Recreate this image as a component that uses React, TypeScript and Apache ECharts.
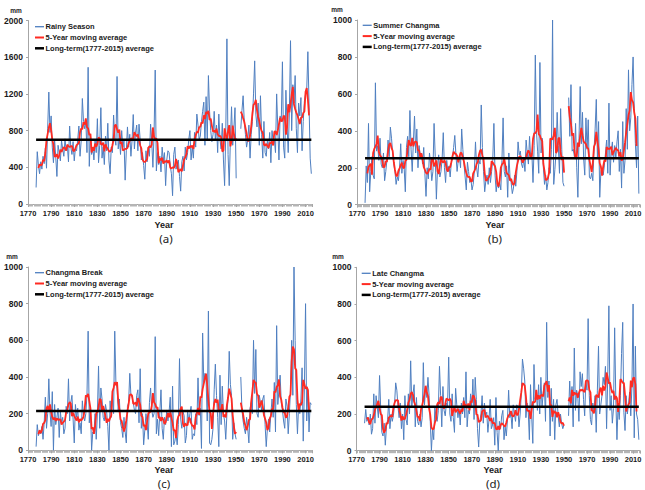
import React, { useEffect, useRef } from "react";
import * as echarts from "echarts";

// Annual precipitation (mm), 1777-2015; 1951-1953 are missing years.
const START_YEAR = 1777;

const RAINY_SEASON = [
  180, 570, 420,
  330, 460, 380, 520, 440, 610, 390, 820, 1220, 780,
  960, 620, 450, 700, 510, 300, 640, 560, 470, 690,
  600, 520, 710, 580, 640, 460, 850, 620, 540, 680,
  470, 610, 580, 700, 850, 520, 690, 1150, 900, 820,
  900, 560, 1490, 410, 760, 540, 620, 480, 700, 560,
  930, 450, 640, 1050, 500, 620, 430, 740, 580, 880,
  470, 330, 620, 560, 970, 720, 640, 1390, 600, 720,
  540, 800, 620, 700, 260, 580, 840, 620, 760, 520,
  700, 975, 600, 780, 860, 580, 870, 700, 480, 560,
  420, 270, 580, 460, 620, 520, 870, 680, 400, 760,
  1460, 360, 560, 430, 520, 350, 620, 470, 560, 200,
  480, 580, 560, 420, 330, 90, 540, 620, 380, 440,
  480, 300, 140, 460, 520, 360, 620, 480, 560, 700,
  800, 480, 620, 500, 780, 620, 980, 860, 700, 740,
  900, 1010, 1110, 640, 1170, 700, 1400, 1010, 800, 680,
  760, 1010, 700, 860, 560, 980, 700, 600, 880, 480,
  200, 760, 1800, 540, 200, 700, 1060, 640, 820, 1050,
  280, null, null, null, 820, 1020, 1180, 900, 760, 620,
  700, 860, 500, 760, 900, 1200, 1560, 980, 840, 1100,
  640, 1180, 760, 500, 900, 560, 520, 700, 600, 780,
  450, 800, 680, 700, 560, 1200, 820, 480, 960, 900,
  1550, 620, 500, 1240, 860, 560, 1000, 1780, 800, 1300,
  1100, 1400, 820, 560, 1100, 960, 1160, 580, 900, 1120,
  1200, 1240, 1660, 1100, 500, 330,
];

const SUMMER_CHANGMA = [
  10, 210, 120,
  440, 70, 180, 260, 160, 140, 660, 290, 320, 240,
  360, 220, 200, 280, 130, 180, 240, 350, 260, 420,
  360, 280, 220, 180, 110, 150, 130, 200, 330, 170,
  240, 200, 70, 310, 370, 260, 510, 300, 180, 340,
  480, 280, 410, 200, 320, 260, 280, 220, 310, 170,
  45, 200, 140, 280, 220, 130, 180, 440, 260, 30,
  200, 270, 150, 180, 250, 390, 200, 120, 240, 180,
  210, 150, 230, 250, 310, 375, 270, 180, 240, 260,
  200, 410, 300, 220, 150, 80, 230, 180, 120, 140,
  80, 110, 180, 340, 200, 150, 240, 220, 540, 310,
  180, 70, 130, 160, 110, 200, 120, 180, 240, 440,
  160, 70, 130, 90, 120, 80, 240, 470, 180, 150,
  210, 40, 280, 150, 120, 60, 90, 160, 100, 180,
  340, 270, 290, 220, 200, 250, 180, 350, 280, 220,
  370, 250, 280, 120, 320, 810, 400, 290, 170, 770,
  280, 360, 200, 110, 160, 80, 120, 200, 170, 300,
  1000, 110, 190, 280, 500, 320, 170, 520, 300, 120,
  100, null, null, null, 580, 370, 650, 290, 300, 260,
  440, 200, 40, 360, 640, 330, 500, 250, 160, 470,
  300, 460, 150, 140, 170, 130, 290, 410, 570, 250,
  450, 40, 180, 200, 160, 210, 280, 350, 170, 550,
  160, 290, 340, 230, 320, 250, 340, 400, 180, 300,
  90, 450, 170, 240, 520, 300, 730, 400, 470, 650,
  800, 520, 330, 200, 480, 60,
];

const CHANGMA_BREAK = [
  20, 140, 80,
  110, 90, 130, 60, 150, 290, 120, 200, 390, 210,
  130, 320, 0, 250, 140, 180, 230, 70, 210, 150,
  180, 90, 120, 240, 200, 390, 160, 260, 300, 170,
  40, 250, 180, 230, 110, 150, 90, 270, 190, 160,
  200, 300, 650, 150, 240, 0, 100, 90, 200, 60,
  200, 460, 120, 340, 280, 180, 160, 250, 210, 130,
  0, 270, 180, 300, 200, 650, 370, 340, 220, 280,
  150, 120, 70, 180, 100, 40, 240, 260, 420, 300,
  290, 260, 220, 200, 300, 330, 150, 445, 120, 200,
  30, 110, 200, 150, 60, 260, 340, 220, 180, 200,
  620, 90, 170, 80, 210, 330, 120, 60, 180, 140,
  220, 160, 210, 290, 20, 350, 30, 50, 90, 30,
  140, 500, 170, 120, 210, 190, 40, 80, 220, 150,
  200, 240, 60, 90, 80, 200, 140, 395, 190, 230,
  10, 640, 370, 420, 380, 160, 760, 40, 30, 60,
  120, 330, 470, 300, 180, 20, 410, 140, 350, 200,
  160, 60, 200, 280, 540, 360, 300, 60, 150, 90,
  60, null, null, null, 400, 220, 160, 120, 90, 180,
  120, 40, 230, 260, 200, 600, 310, 550, 200, 180,
  300, 260, 220, 280, 300, 140, 20, 120, 170, 100,
  200, 280, 180, 370, 100, 680, 250, 330, 410, 260,
  220, 160, 120, 280, 240, 90, 200, 330, 600, 300,
  1000, 600, 250, 90, 250, 200, 280, 450, 50, 340,
  800, 160, 330, 100, 260, 250,
];

const LATE_CHANGMA = [
  150, 225, 160,
  180, 140, 200, 90, 120, 310, 150, 300, 240, 180,
  410, 230, 100, 80, 150, 30, 130, 170, 280, 120,
  200, 160, 190, 250, 370, 330, 240, 180, 260, 120,
  200, 60, 300, 170, 140, 310, 200, 490, 240, 310,
  360, 130, 290, 160, 140, 200, 130, 180, 480, 250,
  350, 290, 400, 300, 160, 0, 120, 60, 240, 180,
  160, 220, 460, 300, 130, 350, 220, 190, 260, 240,
  510, 200, 160, 310, 180, 100, 340, 250, 180, 230,
  140, 260, 200, 290, 180, 430, 130, 220, 200, 310,
  240, 390, 170, 400, 280, 120, 20, 160, 200, 300,
  150, 260, 190, 210, 100, 170, 280, 120, 140, 180,
  30, 290, 100, 0, 160, 120, 190, 220, 60, 130,
  80, 170, 330, 180, 200, 120, 250, 200, 160, 250,
  240, 130, 200, 310, 500, 450, 380, 180, 260, 220,
  60, 360, 190, 40, 470, 280, 330, 220, 360, 200,
  400, 240, 310, 370, 160, 700, 290, 380, 80, 340,
  160, 280, 60, 250, 280, 190, 130, 200, 150, 120,
  140, null, null, null, 190, 380, 240, 350, 130, 560,
  220, 330, 300, 160, 430, 350, 420, 280, 190, 380,
  330, 720, 300, 170, 140, 260, 220, 300, 100, 330,
  570, 200, 250, 300, 400, 360, 460, 120, 400, 790,
  220, 300, 150, 230, 670, 280, 60, 250, 170, 300,
  530, 700, 210, 110, 300, 200, 250, 320, 190, 350,
  800, 70, 570, 200, 170, 60,
];

// Long-term (1777-2015) averages, mm
const LONG_TERM_AVG = [700, 251, 214, 240];

const SERIES_NAMES = ["Rainy Season", "Summer Changma", "Changma Break", "Late Changma"];
const PANEL_TAGS = ["(a)", "(b)", "(c)", "(d)"];
const Y_MAX = [2000, 1000, 1000, 1000];
const Y_INTERVAL = [400, 200, 200, 200];
const MA_NAME = "5-Year moving average";
const AVG_NAME = "Long-term(1777-2015) average";

const PANELS = [RAINY_SEASON, SUMMER_CHANGMA, CHANGMA_BREAK, LATE_CHANGMA];

const FONT = 'Arial, "Liberation Sans", sans-serif';
const BLUE = "#4f7fc0";
const RED = "#ff2b22";
const AXIS_GRAY = "#a6a6a6";
const TEXT = "#1a1a1a";

// Centered 5-year moving average; skips missing years inside the window.
function movingAverage(values: (number | null)[]): (number | null)[] {
  return values.map((v, i) => {
    if (v === null || i < 2 || i > values.length - 3) return null;
    const win = values.slice(i - 2, i + 3).filter((x) => x !== null) as number[];
    if (win.length < 3) return null;
    return win.reduce((s, x) => s + x, 0) / win.length;
  });
}

const GRIDS = [
  { left: 28, top: 20.5, width: 284.5, height: 183.5 },
  { left: 357, top: 20, width: 283, height: 184.7 },
  { left: 28, top: 267, width: 284.5, height: 183.3 },
  { left: 356.5, top: 267.3, width: 283.5, height: 183.4 },
];

// key position: left edge of the sample line and centre of the first row
const KEY_POS = [
  [35, 26.7],
  [362.7, 25.3],
  [35, 272.7],
  [361.7, 273.3],
];
const KEY_ROW = 10.8;

const LABEL_POS = [
  { mm: [16, 10], year: [164, 224.5], tag: [166, 238] },
  { mm: [337, 9.5], year: [495, 224.5], tag: [495, 238] },
  { mm: [12, 256.5], year: [164, 470], tag: [164, 483] },
  { mm: [338, 256], year: [493, 469.5], tag: [493, 483] },
];

function label(text: string, x: number, y: number, font: string, fill = TEXT, align = "center") {
  return {
    type: "text",
    x,
    y,
    style: { text, textAlign: align, textVerticalAlign: "middle", font, fill },
  };
}

function buildOption() {
  const xAxis: any[] = [];
  const yAxis: any[] = [];
  const series: any[] = [];
  const graphic: any[] = [];

  PANELS.forEach((vals, p) => {
    const years = vals.map((_, i) => START_YEAR + i);
    const ma = movingAverage(vals);
    xAxis.push({
      type: "value",
      gridIndex: p,
      min: 1770,
      max: 2016,
      interval: 20,
      axisLine: { show: true, lineStyle: { color: AXIS_GRAY, width: 1 } },
      axisTick: { show: true, length: 3, lineStyle: { color: AXIS_GRAY } },
      minorTick: { show: true, splitNumber: 20, length: 2.5, lineStyle: { color: "#b5b5b5" } },
      splitLine: { show: false },
      axisLabel: {
        showMaxLabel: false,
        margin: 5,
        fontSize: 7.5,
        fontWeight: "bold",
        fontFamily: FONT,
        color: TEXT,
        formatter: (v: number) => String(v),
      },
    });
    yAxis.push({
      type: "value",
      gridIndex: p,
      min: 0,
      max: Y_MAX[p],
      interval: Y_INTERVAL[p],
      axisLine: { show: true, lineStyle: { color: AXIS_GRAY, width: 1 } },
      axisTick: { show: true, length: 2, lineStyle: { color: AXIS_GRAY } },
      splitLine: { show: false },
      axisLabel: {
        margin: 5,
        fontSize: 8.5,
        fontWeight: "bold",
        fontFamily: FONT,
        color: TEXT,
        formatter: (v: number) => String(v),
      },
    });
    series.push({
      name: SERIES_NAMES[p],
      type: "line",
      xAxisIndex: p,
      yAxisIndex: p,
      symbol: "none",
      connectNulls: false,
      lineStyle: { color: BLUE, width: 1 },
      itemStyle: { color: BLUE },
      data: years.map((y, i) => [y, vals[i]]),
    });
    series.push({
      name: MA_NAME,
      type: "line",
      xAxisIndex: p,
      yAxisIndex: p,
      symbol: "none",
      connectNulls: false,
      lineStyle: { color: RED, width: 1.8 },
      itemStyle: { color: RED },
      data: years.map((y, i) => [y, ma[i]]),
    });
    series.push({
      name: AVG_NAME,
      type: "line",
      xAxisIndex: p,
      yAxisIndex: p,
      symbol: "none",
      lineStyle: { color: "#000", width: 2.5 },
      itemStyle: { color: "#000" },
      data: [
        [years[0], LONG_TERM_AVG[p]],
        [years[years.length - 1], LONG_TERM_AVG[p]],
      ],
    });

    // key: sample line + name for each of the three series
    const [kx, ky] = KEY_POS[p];
    const keyItems = [
      { name: SERIES_NAMES[p], color: BLUE, width: 1.3 },
      { name: MA_NAME, color: RED, width: 2 },
      { name: AVG_NAME, color: "#000", width: 2.5 },
    ];
    keyItems.forEach((k, r) => {
      const y = ky + r * KEY_ROW;
      graphic.push({
        type: "line",
        shape: { x1: kx, y1: y, x2: kx + 9, y2: y },
        style: { stroke: k.color, lineWidth: k.width },
      });
      graphic.push(label(k.name, kx + 10.5, y, `bold 7.5px ${FONT}`, TEXT, "left"));
    });

    const pos = LABEL_POS[p];
    graphic.push(
      label("mm", pos.mm[0], pos.mm[1], `bold 6.5px ${FONT}`),
      label("Year", pos.year[0], pos.year[1], `bold 9px ${FONT}`),
      label(PANEL_TAGS[p], pos.tag[0], pos.tag[1], `11.5px "Noto Sans", sans-serif`, "#222")
    );
  });

  return {
    animation: false,
    backgroundColor: "#fff",
    grid: GRIDS,
    xAxis,
    yAxis,
    series,
    graphic,
  };
}

export default function App() {
  const ref = useRef<HTMLDivElement>(null);
  useEffect(() => {
    if (!ref.current) return;
    const chart = echarts.init(ref.current, null, { renderer: "svg" });
    chart.setOption(buildOption() as any);
    return () => chart.dispose();
  }, []);
  return (
    <div
      ref={ref}
      style={{ position: "fixed", left: 0, top: 0, width: 645, height: 490, background: "#fff" }}
    />
  );
}
